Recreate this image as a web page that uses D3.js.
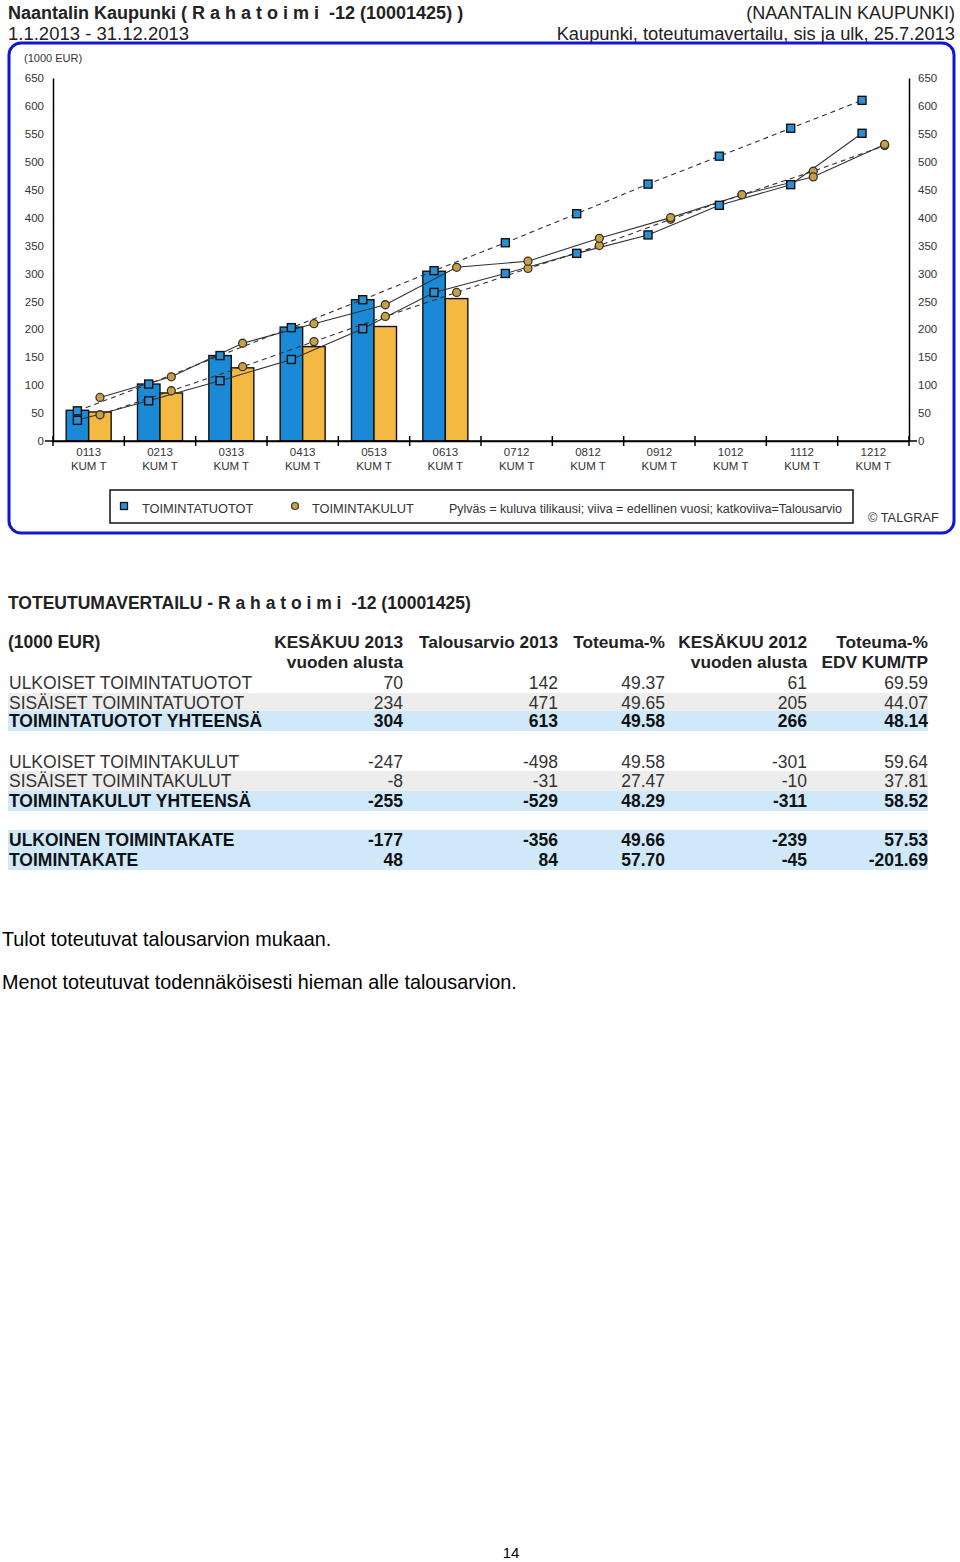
<!DOCTYPE html>
<html><head><meta charset="utf-8">
<script src="https://cdn.jsdelivr.net/npm/d3@7"></script>
<style>
body{margin:0;background:#fff;}
svg text{font-family:"Liberation Sans",Arial,sans-serif;white-space:pre;}
</style></head>
<body><svg id="c" width="960" height="1562"></svg>
<script>
// ---------- chart data ----------
const months = ["0113","0213","0313","0413","0513","0613","0712","0812","0912","1012","1112","1212"];
const monthSub = "KUM T";
const tuototCurrent = [55,102,153,204,253,304];
const kulutCurrent  = [52,86,131,169,205,255];
const tuototPrev    = [37,72,108,146,201,266,300,336,369,422,459,551];
const tuototBudget  = [54,102,153,203,253,305,355,407,460,510,560,610];
const kulutPrev     = [78,115,175,210,244,311,322,363,400,441,473,531];
const kulutBudget   = [47,90,133,178,223,266,309,350,397,441,483,529];
const yTicks = [0,50,100,150,200,250,300,350,400,450,500,550,600,650];

// ---------- table data ----------
const tableTitle = "TOTEUTUMAVERTAILU - R a h a t o i m i  -12 (10001425)";
const colHead1 = ["KESÄKUU 2013","Talousarvio 2013","Toteuma-%","KESÄKUU 2012","Toteuma-%"];
const colHead2 = ["vuoden alusta","","","vuoden alusta","EDV KUM/TP"];
const rowLabels = ["ULKOISET TOIMINTATUOTOT","SISÄISET TOIMINTATUOTOT","TOIMINTATUOTOT YHTEENSÄ",
  "ULKOISET TOIMINTAKULUT","SISÄISET TOIMINTAKULUT","TOIMINTAKULUT YHTEENSÄ",
  "ULKOINEN TOIMINTAKATE","TOIMINTAKATE"];
const colKesakuu2013 = ["70","234","304","-247","-8","-255","-177","48"];
const colTalousarvio = ["142","471","613","-498","-31","-529","-356","84"];
const colToteuma     = ["49.37","49.65","49.58","49.58","27.47","48.29","49.66","57.70"];
const colKesakuu2012 = ["61","205","266","-301","-10","-311","-239","-45"];
const colToteumaEdv  = ["69.59","44.07","48.14","59.64","37.81","58.52","57.53","-201.69"];
const rowBold = [false,false,true,false,false,true,true,true];
const rowShade = ["none","gray","blue","none","gray","blue","blue","blue"];

const svg = d3.select("#c");

// ---------- header ----------
svg.append("text").attr("x",8).attr("y",19).attr("font-size",18).attr("font-weight","bold").attr("fill","#222")
  .text("Naantalin Kaupunki ( R a h a t o i m i  -12 (10001425) )");
svg.append("text").attr("x",8).attr("y",40).attr("font-size",18.5).attr("fill","#222").text("1.1.2013 - 31.12.2013");
svg.append("text").attr("x",955).attr("y",19).attr("font-size",18).attr("text-anchor","end").attr("fill","#222").text("(NAANTALIN KAUPUNKI)");
svg.append("text").attr("x",955).attr("y",40).attr("font-size",18.3).attr("text-anchor","end").attr("fill","#222").text("Kaupunki, toteutumavertailu, sis ja ulk, 25.7.2013");

// frame
svg.append("rect").attr("x",9).attr("y",43).attr("width",945).attr("height",490).attr("rx",12)
  .attr("fill","none").attr("stroke","#1414d2").attr("stroke-width",3);

// ---------- scales ----------
const x0 = 53, x1 = 909, yTop = 78, yBot = 441;
const x = d3.scaleBand().domain(months).range([x0,x1]);
const y = d3.scaleLinear().domain([0,650]).range([yBot,yTop]);
const bw = 22.5;
const off = 11.3;
const cx = m => x(m) + x.bandwidth()/2;

const g = svg.append("g");

// units label
g.append("text").attr("x",24).attr("y",62).attr("font-size",11).attr("fill","#333").text("(1000 EUR)");

// y axes
const yAxL = d3.axisLeft(y).tickValues(yTicks).tickSize(0).tickPadding(9);
const yAxR = d3.axisRight(y).tickValues(yTicks).tickSize(0).tickPadding(9);
const gl = g.append("g").attr("transform",`translate(${x0},0)`).call(yAxL);
const gr = g.append("g").attr("transform",`translate(${x1},0)`).call(yAxR);
[gl,gr].forEach(a=>{
  a.select(".domain").attr("stroke","#000").attr("stroke-width",1.5);
  a.selectAll("text").attr("font-size",11.5).attr("fill","#333").attr("font-family","Liberation Sans, Arial");
});

// bars
g.selectAll(".bt").data(tuototCurrent).join("rect")
  .attr("x",(d,i)=>cx(months[i])-bw).attr("y",d=>y(d)).attr("width",bw).attr("height",d=>yBot-y(d))
  .attr("fill","#1a8ad6").attr("stroke","#111").attr("stroke-width",1.4);
g.selectAll(".bk").data(kulutCurrent).join("rect")
  .attr("x",(d,i)=>cx(months[i])).attr("y",d=>y(d)).attr("width",bw).attr("height",d=>yBot-y(d))
  .attr("fill","#f4b942").attr("stroke","#111").attr("stroke-width",1.4);

// x axis
const xAx = d3.axisBottom(x).tickSize(0).tickFormat("");
const gx = g.append("g").attr("transform",`translate(0,${yBot})`).call(xAx);
gx.select(".domain").attr("stroke","#000").attr("stroke-width",1.5);
g.append("line").attr("x1",x0-8).attr("x2",x1+8).attr("y1",yBot).attr("y2",yBot).attr("stroke","#000").attr("stroke-width",1.5);
const bounds = months.map(m=>x(m)).concat([x1]);
g.selectAll(".xt").data(bounds).join("line")
  .attr("x1",d=>d).attr("x2",d=>d).attr("y1",yBot-5).attr("y2",yBot+5).attr("stroke","#000").attr("stroke-width",1.5);
g.selectAll(".xl1").data(months).join("text")
  .attr("x",d=>cx(d)).attr("y",456).attr("text-anchor","middle").attr("font-size",11.5).attr("fill","#333").text(d=>d);
g.selectAll(".xl2").data(months).join("text")
  .attr("x",d=>cx(d)).attr("y",470).attr("text-anchor","middle").attr("font-size",11.5).attr("fill","#333").text(monthSub);

// lines
function drawSeries(vals, dx, dashed){
  const line = d3.line().x((d,i)=>cx(months[i])+dx).y(d=>y(d));
  g.append("path").datum(vals).attr("d",line).attr("fill","none").attr("stroke","#333")
    .attr("stroke-width",1.1).attr("stroke-dasharray",dashed?"5,4":null);
}
function drawMarkers(vals, dx, marker){
  if(marker==="sq"){
    g.selectAll(null).data(vals).join("rect")
      .attr("x",(d,i)=>cx(months[i])+dx-4).attr("y",d=>y(d)-4).attr("width",8).attr("height",8)
      .attr("fill","#2a8fd4").attr("stroke","#111").attr("stroke-width",1.4);
  } else {
    g.selectAll(null).data(vals).join("circle")
      .attr("cx",(d,i)=>cx(months[i])+dx).attr("cy",d=>y(d)).attr("r",4)
      .attr("fill","#c9a142").attr("stroke","#333").attr("stroke-width",1.3);
  }
}
drawSeries(tuototBudget,-off,true);
drawSeries(tuototPrev,-off,false);
drawSeries(kulutBudget,off,true);
drawSeries(kulutPrev,off,false);
drawMarkers(tuototBudget,-off,"sq");
drawMarkers(tuototPrev,-off,"sq");
drawMarkers(kulutBudget,off,"ci");
drawMarkers(kulutPrev,off,"ci");

// legend
svg.append("rect").attr("x",110).attr("y",490).attr("width",743).attr("height",33).attr("fill","#fff").attr("stroke","#111").attr("stroke-width",1.5);
svg.append("rect").attr("x",120.5).attr("y",502.5).attr("width",7).attr("height",7).attr("fill","#2a8fd4").attr("stroke","#111").attr("stroke-width",1.3);
svg.append("text").attr("x",142).attr("y",513).attr("font-size",12.8).attr("fill","#333").text("TOIMINTATUOTOT");
svg.append("circle").attr("cx",295).attr("cy",506).attr("r",3.5).attr("fill","#c9a142").attr("stroke","#333").attr("stroke-width",1.2);
svg.append("text").attr("x",312).attr("y",513).attr("font-size",12.8).attr("fill","#333").text("TOIMINTAKULUT");
svg.append("text").attr("x",449).attr("y",513).attr("font-size",12.5).attr("fill","#333").text("Pylväs = kuluva tilikausi; viiva = edellinen vuosi; katkoviiva=Talousarvio");
svg.append("text").attr("x",868).attr("y",522).attr("font-size",12.8).attr("fill","#333").text("© TALGRAF");

// ---------- table ----------
svg.append("text").attr("x",8).attr("y",609).attr("font-size",17.5).attr("font-weight","bold").attr("fill","#222").text(tableTitle);
svg.append("text").attr("x",8).attr("y",648).attr("font-size",17.5).attr("font-weight","bold").attr("fill","#222").text("(1000 EUR)");
const colRight = [403,558,665,807,928];
colHead1.forEach((t,i)=>svg.append("text").attr("x",colRight[i]).attr("y",648).attr("text-anchor","end")
  .attr("font-size",17.3).attr("font-weight","bold").attr("fill","#222").text(t));
colHead2.forEach((t,i)=>svg.append("text").attr("x",colRight[i]).attr("y",668).attr("text-anchor","end")
  .attr("font-size",17.3).attr("font-weight","bold").attr("fill","#222").text(t));

const rowY = [683,703,721,762,781,801,840,860];
const shadeCol = {gray:"#ededed", blue:"#cfe9fa"};
rowLabels.forEach((lab,i)=>{
  if(rowShade[i]!=="none"){
    svg.append("rect").attr("x",8).attr("y",rowY[i]-10).attr("width",920).attr("height",20).attr("fill",shadeCol[rowShade[i]]);
  }
});
const cols = [colKesakuu2013,colTalousarvio,colToteuma,colKesakuu2012,colToteumaEdv];
rowLabels.forEach((lab,i)=>{
  const fw = rowBold[i]?"bold":"normal";
  const fc = rowBold[i]?"#111":"#333";
  const fs = 17.5;
  svg.append("text").attr("x",9).attr("y",rowY[i]+6).attr("font-size",fs).attr("font-weight",fw).attr("fill",fc).text(lab);
  cols.forEach((c,j)=>svg.append("text").attr("x",colRight[j]).attr("y",rowY[i]+6).attr("text-anchor","end")
    .attr("font-size",fs).attr("font-weight",fw).attr("fill",fc).text(c[i]));
});

// ---------- body text ----------
svg.append("text").attr("x",2).attr("y",946).attr("font-size",19.8).attr("fill","#000").text("Tulot toteutuvat talousarvion mukaan.");
svg.append("text").attr("x",2).attr("y",989).attr("font-size",19.8).attr("fill","#000").text("Menot toteutuvat todennäköisesti hieman alle talousarvion.");
svg.append("text").attr("x",511).attr("y",1558).attr("font-size",15).attr("text-anchor","middle").attr("fill","#000").text("14");
</script></body></html>
